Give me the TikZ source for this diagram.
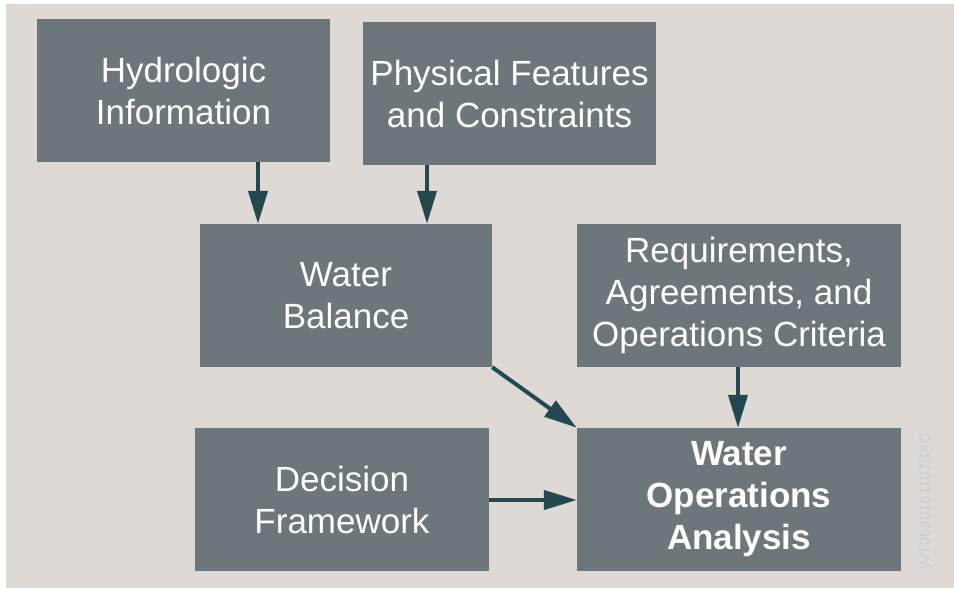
\documentclass[tikz,border=0pt]{standalone}
\usepackage{fontspec}
\setmainfont{Liberation Sans}
\usetikzlibrary{arrows.meta}
\definecolor{bgc}{HTML}{DED9D5}
\definecolor{boxc}{HTML}{6C767B}
\definecolor{arrc}{HTML}{244850}
\definecolor{wmc}{HTML}{C9CDD3}
\begin{document}
\begin{tikzpicture}[x=1pt,y=-1pt,
  box/.style={fill=boxc, draw=none, text=white, align=center, inner sep=0pt,
    font=\fontsize{35}{42}\selectfont},
  conn/.style={draw=arrc, line width=4pt, -{Triangle[length=33pt,width=19pt]}, shorten >=0pt}]
\useasboundingbox (0,0) rectangle (954,589);
\fill[white] (0,0) rectangle (954,589);
\fill[bgc] (6,4) rectangle (954,588);
% boxes
\node[box, minimum width=293pt, minimum height=143pt] (hyd) at (183.5,90.5) {Hydrologic\\Information};
\node[box, minimum width=293pt, minimum height=143pt] (phy) at (509.5,93.5) {Physical Features\\and Constraints};
\node[box, minimum width=292pt, minimum height=143pt] (wb) at (346,295.5) {Water\\Balance};
\node[box, minimum width=324pt, minimum height=143pt] (req) at (739,295.5) {Requirements,\\Agreements, and\\Operations Criteria};
\node[box, minimum width=294pt, minimum height=143pt] (dec) at (342,499.5) {Decision\\Framework};
\node[box, minimum width=324pt, minimum height=143pt, font=\fontsize{35}{42}\selectfont\bfseries] (woa) at (739,499.5) {Water\\Operations\\Analysis};
% watermark
\node[rotate=90, text=wmc, font=\fontsize{15}{15}\selectfont, inner sep=0pt] (wm) at (925,501) {WT0630161107SAC};
% connectors
\draw[conn] (hyd.south -| 258,0) -- (wb.north -| 258,0);
\draw[conn] (phy.south -| 427,0) -- (wb.north -| 427,0);
\draw[conn] (req.south -| 738,0) -- (woa.north -| 738,0);
\draw[conn] (wb.south east) -- (woa.north west);
\draw[conn] (dec.east |- 0,500) -- (woa.west |- 0,500);
\end{tikzpicture}
\end{document}
